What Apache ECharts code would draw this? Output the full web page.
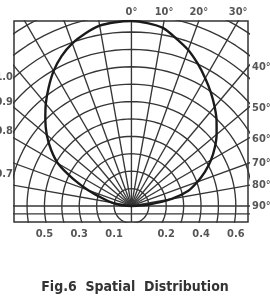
<!DOCTYPE html>
<html>
<head>
<meta charset="utf-8">
<script src="https://cdn.jsdelivr.net/npm/echarts@6/dist/echarts.min.js"></script>
<style>
    html, body { margin: 0; padding: 0; background: #fff; }
    #chart { width: 270px; height: 305px; }
</style>
</head>
<body>
<div id="chart"></div>
<script>
// 光强分布曲线: 角度(度, 负值为左侧) 与 相对强度
var curveAngles = [-90, -85, -80, -75, -70, -65, -60, -55, -50, -45, -40, -35, -30, -25, -20, -15, -10, -5, 0,
    5, 10, 15, 20, 25, 30, 35, 40, 45, 50, 55, 60, 65, 70, 75, 80, 85, 90];
var curveValues = [0, 0.066, 0.118, 0.172, 0.262, 0.37, 0.486, 0.564, 0.635, 0.70, 0.766, 0.83, 0.895, 0.95, 0.994, 1.026, 1.052, 1.06, 1.063,
    1.055, 1.039, 0.996, 0.954, 0.902, 0.848, 0.796, 0.744, 0.692, 0.639, 0.585, 0.528, 0.467, 0.403, 0.339, 0.235, 0.10, 0];

// 网格: 同心圆半径 和 放射线角度
var circleRadii = [0.1, 0.2, 0.3, 0.4, 0.5, 0.6, 0.7, 0.8, 0.9, 1.0, 1.1, 1.2, 1.3];
var rayAngles = [-90, -80, -70, -60, -50, -40, -30, -20, -10, 10, 20, 30, 40, 50, 60, 70, 80, 90];
var extraLineY = -0.045;

// 刻度标签
var topAngles = [0, 10, 20, 30];
var topLabels = ['0°', '10°', '20°', '30°'];
var sideAngles = [40, 50, 60, 70, 80, 90];
var sideLabels = ['40°', '50°', '60°', '70°', '80°', '90°'];
var leftValues = [1.0, 0.9, 0.8, 0.7];
var leftLabels = ['1.0', '0.9', '0.8', '0.7'];
var bottomValues = [-0.5, -0.3, -0.1, 0.2, 0.4, 0.6];
var bottomLabels = ['0.5', '0.3', '0.1', '0.2', '0.4', '0.6'];

var X_MIN = -0.675, X_MAX = 0.67, Y_MIN = -0.092, Y_MAX = 1.063;
var FONT = '"Liberation Sans Narrow", "DejaVu Sans Condensed", "Liberation Sans", sans-serif';
var GRID_COLOR = '#363636';
var GRID_WIDTH = 1.35;

function rad(d) { return d * Math.PI / 180; }

var chart = echarts.init(document.getElementById('chart'));
var series = [];

function gridLine(pts) {
    return {
        type: 'line', data: pts, showSymbol: false, silent: true,
        lineStyle: { color: GRID_COLOR, width: GRID_WIDTH }
    };
}

// 同心圆
circleRadii.forEach(function (r) {
    var pts = [];
    for (var a = 0; a <= 360; a += 3) {
        pts.push([r * Math.sin(rad(a)), r * Math.cos(rad(a))]);
    }
    series.push(gridLine(pts));
});

// 放射线
rayAngles.forEach(function (a) {
    series.push(gridLine([[0, 0], [2 * Math.sin(rad(a)), 2 * Math.cos(rad(a))]]));
});
// 0° 竖线 与 下方横线
series.push(gridLine([[0, Y_MIN], [0, 2]]));
series.push(gridLine([[-2, extraLineY], [2, extraLineY]]));

// 光强曲线
series.push({
    type: 'line',
    data: curveAngles.map(function (a, i) {
        return [curveValues[i] * Math.sin(rad(a)), curveValues[i] * Math.cos(rad(a))];
    }),
    smooth: 0.3, showSymbol: false, silent: true,
    lineStyle: { color: '#1a1a1a', width: 2.4 }
});

var labelStyle = { show: true, color: '#2a2a2a', fontFamily: FONT, fontSize: 11, fontWeight: 'bold' };

function labelSeries(points, texts, extra) {
    return {
        type: 'scatter', symbolSize: 0, clip: false, silent: true,
        data: points,
        label: Object.assign({}, labelStyle, extra, {
            formatter: function (p) { return texts[p.dataIndex]; }
        })
    };
}

series.push(labelSeries(topAngles.map(function (a) {
    return [Y_MAX * Math.tan(rad(a)), Y_MAX];
}), topLabels, { position: 'top', distance: 3 }));

series.push(labelSeries(sideAngles.map(function (a) {
    return [X_MAX, X_MAX / Math.tan(rad(a))];
}), sideLabels, { position: 'right', distance: 4 }));

series.push(labelSeries(leftValues.map(function (r) {
    return [X_MIN, Math.sqrt(Math.max(r * r - X_MIN * X_MIN, 0))];
}), leftLabels, { position: 'left', distance: 1 }));

series.push(labelSeries(bottomValues.map(function (v) {
    return [v, Y_MIN];
}), bottomLabels, { position: 'bottom', distance: 7 }));

var option = {
    animation: false,
    title: {
        text: 'Fig.6  Spatial  Distribution',
        left: 'center',
        top: 275,
        textStyle: { color: '#333', fontFamily: FONT, fontSize: 14, fontWeight: 'bold' }
    },
    grid: {
        left: 14, top: 21, width: 234, height: 201,
        show: true, borderColor: '#333', borderWidth: 1.5
    },
    xAxis: {
        type: 'value', min: X_MIN, max: X_MAX,
        axisLine: { show: false }, axisTick: { show: false },
        axisLabel: { show: false }, splitLine: { show: false }
    },
    yAxis: {
        type: 'value', min: Y_MIN, max: Y_MAX,
        axisLine: { show: false }, axisTick: { show: false },
        axisLabel: { show: false }, splitLine: { show: false }
    },
    series: series
};

chart.setOption(option);
</script>
</body>
</html>
